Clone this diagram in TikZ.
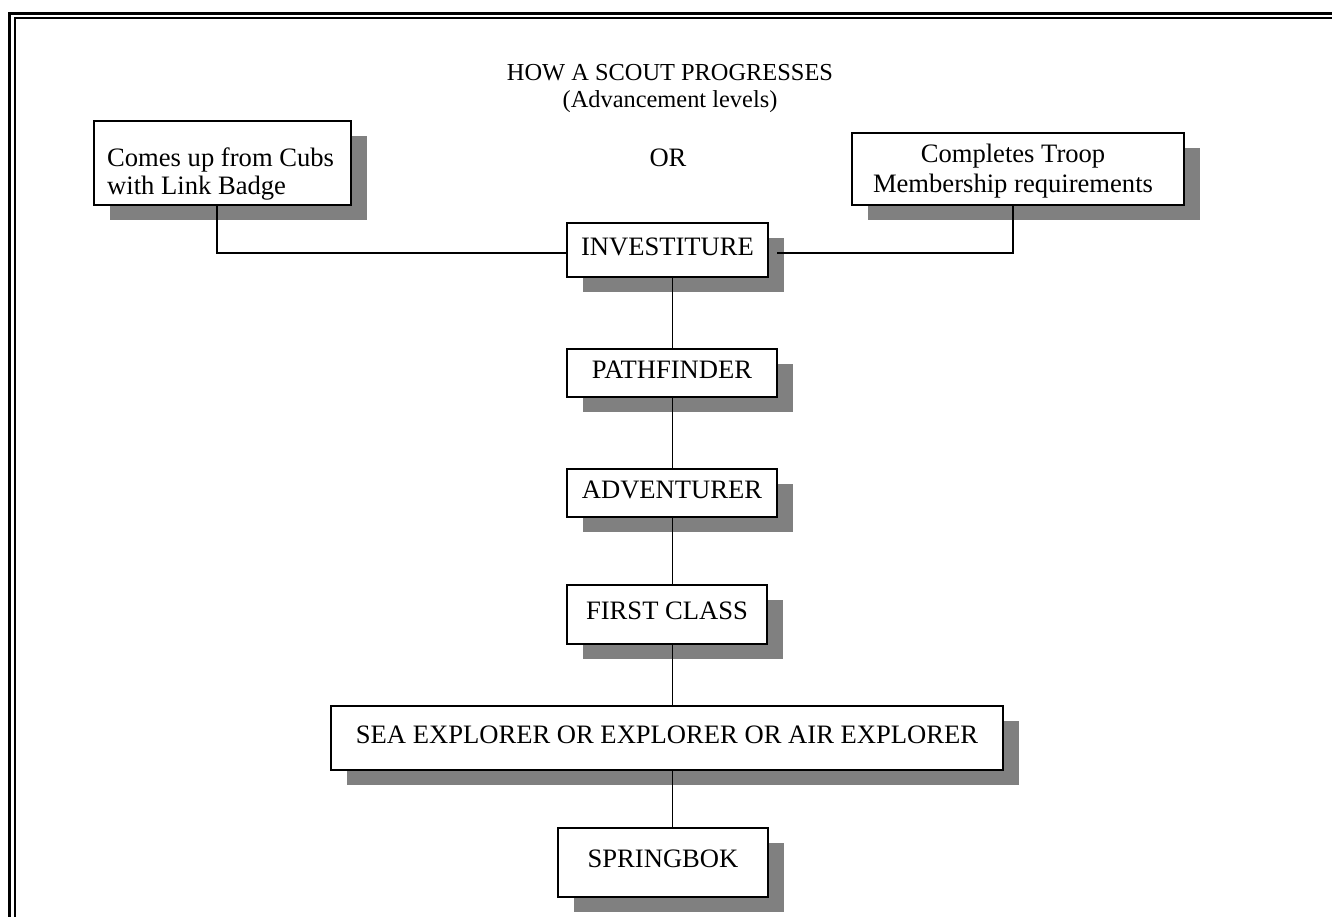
\documentclass[tikz,border=0pt]{standalone}
\usepackage{fontspec}
\setmainfont{Liberation Serif}
\usetikzlibrary{shadows}
\definecolor{shadowgray}{RGB}{128,128,128}
\begin{document}
\begin{tikzpicture}[x=1pt,y=-1pt,
  lvl/.style={draw, line width=2pt, fill=white, inner sep=0pt,
    general shadow={fill=shadowgray, shadow xshift=16pt, shadow yshift=-15pt},
    font=\fontsize{26.6}{30}\selectfont, text height=18pt, text depth=8pt},
  txt/.style={font=\fontsize{26.6}{30}\selectfont, inner sep=0pt},
  ttl/.style={font=\fontsize{24.4}{28}\selectfont, inner sep=0pt},
  conn/.style={line width=1.8pt}]
\useasboundingbox (0,0) rectangle (1332,917);
\clip (0,0) rectangle (1332,917);
% frame
\draw[line width=3pt] (9.5,940) |- (1345,13.5);
\draw[line width=2pt] (15,940) |- (1345,18);
% boxes
\node[lvl, minimum width=257pt, minimum height=84pt] (cubs) at (222.5,163) {};
\node[lvl, minimum width=332pt, minimum height=72pt] (troop) at (1018,169) {};
\node[lvl, minimum width=201pt, minimum height=54pt] (inv) at (667.5,250) {INVESTITURE};
\node[lvl, minimum width=210pt, minimum height=48pt] (path) at (672,373) {PATHFINDER};
\node[lvl, minimum width=210pt, minimum height=48pt] (adv) at (672,493) {ADVENTURER};
\node[lvl, minimum width=200pt, minimum height=59pt] (first) at (667,614.5) {FIRST CLASS};
\node[lvl, minimum width=672pt, minimum height=64pt] (sea) at (667,738) {SEA EXPLORER OR EXPLORER OR AIR EXPLORER};
\node[lvl, minimum width=210pt, minimum height=69pt] (spring) at (663,862.5) {SPRINGBOK};
% texts
\node[txt, anchor=base west] (cubs1) at (107,167) {Comes up from Cubs};
\node[txt, anchor=base west] (cubs2) at (107,195) {with Link Badge};
\node[txt, anchor=base] (troop1) at (1013,163) {Completes Troop};
\node[txt, anchor=base] (troop2) at (1013,193) {Membership requirements};
\node[ttl, anchor=base] (title1) at (670,81) {HOW A SCOUT PROGRESSES};
\node[ttl, anchor=base] (title2) at (670,108) {(Advancement levels)};
\node[txt, anchor=base] (or) at (668,167) {OR};
% connectors
\coordinate (jl) at (217,253);
\coordinate (jr) at (1013,253);
\coordinate (spine) at (672.5,0);
\coordinate (invr) at ([xshift=8pt]inv.east);
\draw[conn] (cubs.south -| jl) -- (jl) -- (inv.west |- jl);
\draw[conn] (invr |- jr) -- (jr) -- (troop.south -| jr);
\draw[conn] (inv.south -| spine) -- (path.north -| spine);
\draw[conn] (path.south -| spine) -- (adv.north -| spine);
\draw[conn] (adv.south -| spine) -- (first.north -| spine);
\draw[conn] (first.south -| spine) -- (sea.north -| spine);
\draw[conn] (sea.south -| spine) -- (spring.north -| spine);
\end{tikzpicture}
\end{document}
